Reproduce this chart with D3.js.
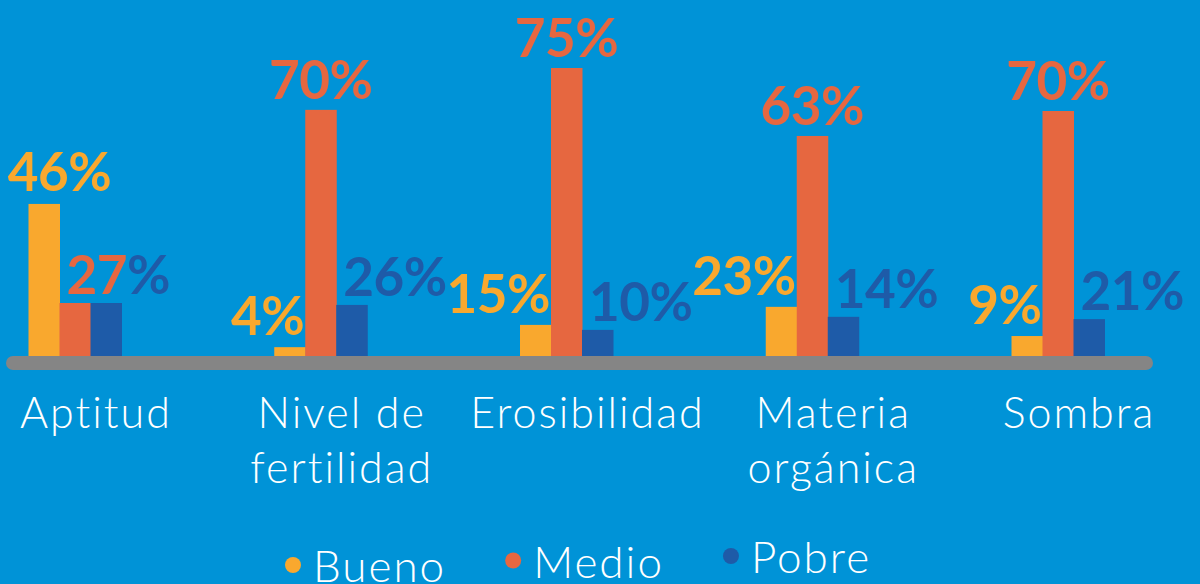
<!DOCTYPE html>
<html>
<head>
<meta charset="utf-8">
<script src="https://cdn.jsdelivr.net/npm/d3@7"></script>
<style>
  html, body { margin: 0; padding: 0; background: #0093d7; }
  svg { display: block; }
</style>
</head>
<body>
<div id="chart"></div>
<script>
// categories and series
const categories = ["Aptitud", "Nivel de fertilidad", "Erosibilidad", "Materia orgánica", "Sombra"];
const categoryLines = [["Aptitud"], ["Nivel de", "fertilidad"], ["Erosibilidad"], ["Materia", "orgánica"], ["Sombra"]];
const series = ["Bueno", "Medio", "Pobre"];

// percentages printed on the chart
const bueno = [46, 4, 15, 23, 9];
const medio = [27, 70, 75, 63, 70];
const pobre = [27, 26, 10, 14, 21];

// bar lengths as drawn in the picture (same % units, not proportional to the labels)
const buenoBar = [39.6, 2.3, 8.1, 12.8, 5.2];
const medioBar = [13.8, 64.1, 75, 57.3, 63.8];
const pobreBar = [13.8, 13.3, 6.8, 10.2, 9.6];

const colors = { Bueno: "#f9a82e", Medio: "#e66740", Pobre: "#1e5ba8" };

const width = 1200, height = 584;
const fontFamily = "Lato, 'Open Sans', sans-serif";

const svg = d3.select("#chart")
  .append("svg")
    .attr("width", width)
    .attr("height", height);

svg.append("rect")
  .attr("width", width)
  .attr("height", height)
  .attr("fill", "#0093d7");

// scales
const x = d3.scalePoint()
  .domain(categories)
  .range([75, 1058]);

const xInner = d3.scaleBand()
  .domain(series)
  .range([-46.5, 46.5]);

const y = d3.scaleLinear()
  .domain([0, 75])
  .range([356, 68]);

// build rows
const labels = { Bueno: bueno, Medio: medio, Pobre: pobre };
const bars = { Bueno: buenoBar, Medio: medioBar, Pobre: pobreBar };
const rows = [];
categories.forEach((c, i) => {
  const groupMax = d3.max(series, s => bars[s][i]);
  series.forEach(s => {
    rows.push({
      cat: c, i: i, series: s,
      label: labels[s][i],
      bar: bars[s][i],
      tallest: bars[s][i] === groupMax
    });
  });
});

// grey base line
const bw = xInner.bandwidth();
const lineX0 = x(categories[0]) - 69;
const lineX1 = x(categories[categories.length - 1]) + 95;
svg.append("rect")
  .attr("x", lineX0)
  .attr("y", y(0))
  .attr("width", lineX1 - lineX0)
  .attr("height", 14)
  .attr("rx", 7)
  .attr("fill", "#858585");

// bars
svg.append("g")
  .selectAll("rect")
  .data(rows)
  .join("rect")
    .attr("x", d => x(d.cat) + xInner(d.series))
    .attr("y", d => y(d.bar))
    .attr("width", bw + 0.5)
    .attr("height", d => y(0) - y(d.bar))
    .attr("fill", d => colors[d.series]);

// value labels
function labelPos(d) {
  const left = x(d.cat) + xInner(d.series);
  const top = y(d.bar);
  if (d.tallest) {
    if (d.series === "Bueno") return { x: left + bw, y: top - 13, anchor: "middle" };
    return { x: left + bw / 2, y: top - 11, anchor: "middle" };
  }
  if (d.series === "Bueno") return { x: left + bw - 1, y: top - 12, anchor: "end" };
  return { x: left + 7, y: top - 9, anchor: "start" };
}

const valueG = svg.append("g")
  .attr("font-family", fontFamily)
  .attr("font-weight", 700)
  .attr("font-size", 53)
  .attr("letter-spacing", -0.5);

const placed = [];
rows.forEach(d => {
  const medioRow = rows.find(r => r.i === d.i && r.series === "Medio");
  // pobre ties with a non-tallest medio: the two labels share one spot
  if (d.series === "Pobre" && !medioRow.tallest && d.label === medioRow.label) return;
  const p = labelPos(d);
  const t = valueG.append("text")
    .attr("x", p.x)
    .attr("y", p.y)
    .attr("text-anchor", p.anchor)
    .attr("fill", colors[d.series]);
  t.append("tspan").text(d.label);
  const tie = d.series === "Medio" && !d.tallest && pobre[d.i] === d.label;
  t.append("tspan").text("%").attr("fill", tie ? colors.Pobre : colors[d.series]);

  // lift a label above any earlier label it runs into
  let b = t.node().getBBox();
  placed.forEach(o => {
    const overlapX = Math.min(b.x + b.width, o.x + o.width) - Math.max(b.x, o.x);
    const overlapY = b.y < o.y + o.height && b.y + b.height > o.y;
    if (overlapX > 4 && overlapY) {
      const capTop = o.y + o.height * 0.2;
      t.attr("y", capTop - 16);
      b = t.node().getBBox();
    }
  });
  placed.push(b);
});

// category labels
svg.append("g")
  .selectAll("text")
  .data(categories)
  .join("text")
    .attr("x", d => x(d) + 21)
    .attr("y", 428)
    .attr("text-anchor", "middle")
    .attr("fill", "#ffffff")
    .attr("font-family", fontFamily)
    .attr("font-weight", 300)
    .attr("font-size", 43)
    .attr("letter-spacing", 2)
    .each(function(d, i) {
      d3.select(this).selectAll("tspan")
        .data(categoryLines[i])
        .join("tspan")
          .attr("x", x(d) + 21)
          .attr("dy", (l, j) => j === 0 ? 0 : 55)
          .text(l => l);
    });

// legend
const legend = svg.append("g")
  .attr("font-family", fontFamily)
  .attr("font-weight", 300)
  .attr("font-size", 44)
  .attr("letter-spacing", 2)
  .attr("fill", "#ffffff");

let lx = 293;
series.forEach((s, i) => {
  const base = 582 - i * 4.5;
  legend.append("circle")
    .attr("cx", lx)
    .attr("cy", base - 17)
    .attr("r", 8)
    .attr("fill", colors[s]);
  const t = legend.append("text")
    .attr("x", lx + 20)
    .attr("y", base)
    .text(s);
  lx += 20 + t.node().getComputedTextLength() + 67;
});
</script>
</body>
</html>
